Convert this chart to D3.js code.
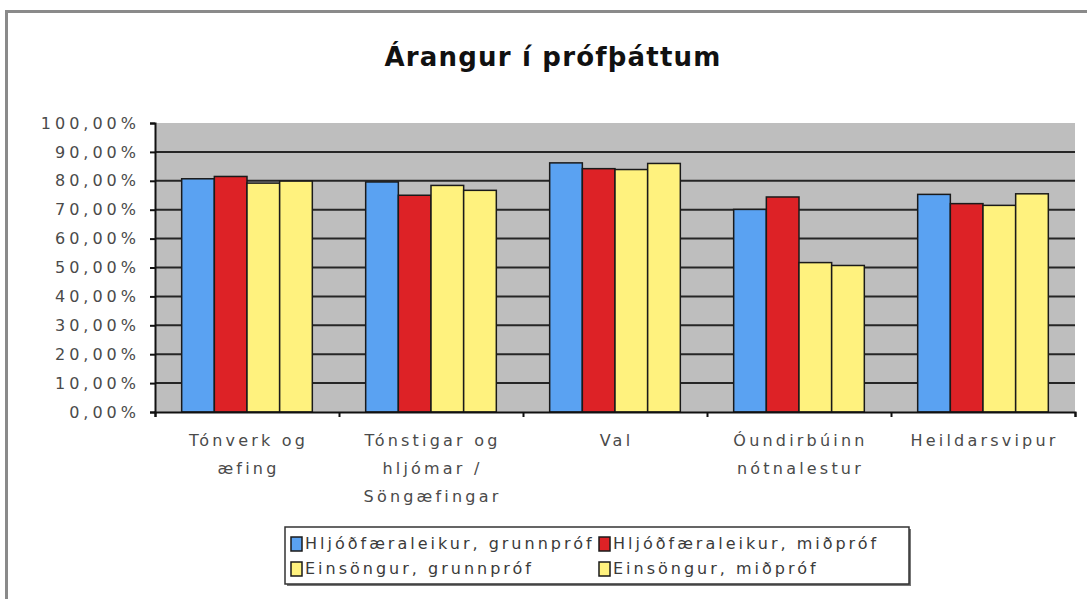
<!DOCTYPE html>
<html>
<head>
<meta charset="utf-8">
<script src="https://cdn.jsdelivr.net/npm/d3@7"></script>
<style>
  body { margin: 0; background: #fff; }
  text { font-family: "DejaVu Sans", Verdana, sans-serif; }
</style>
</head>
<body>
<svg id="chart"></svg>
<script>
const categories = [
    ["Tónverk og", "æfing"],
    ["Tónstigar og", "hljómar /", "Söngæfingar"],
    ["Val"],
    ["Óundirbúinn", "nótnalestur"],
    ["Heildarsvipur"]
];
const seriesNames = [
    "Hljóðfæraleikur, grunnpróf",
    "Hljóðfæraleikur, miðpróf",
    "Einsöngur, grunnpróf",
    "Einsöngur, miðpróf"
];
const seriesColors = ["#5aa2f2", "#dd2226", "#fff27e", "#fff27e"];
// values in percent, per series, one per category
const hljodGrunn = [80.7, 79.6, 86.2, 70.1, 75.3];
const hljodMid   = [81.5, 75.0, 84.2, 74.4, 72.1];
const einsGrunn  = [79.2, 78.4, 83.9, 51.7, 71.5];
const einsMid    = [79.9, 76.7, 86.0, 50.7, 75.5];
const yTicks = [0, 10, 20, 30, 40, 50, 60, 70, 80, 90, 100];

const width = 1087;
const height = 599;
const plot = {left: 155, right: 1075, top: 123, bottom: 412};

const series = [hljodGrunn, hljodMid, einsGrunn, einsMid];
const data = categories.map((c, i) => ({
    key: i,
    values: series.map((s, j) => ({series: j, value: s[i]}))
}));

const svg = d3.select("#chart")
    .attr("width", width)
    .attr("height", height);

// outer frame (only top and left edges visible)
svg.append("path")
    .attr("d", "M6.5,599V11.5H1087")
    .attr("fill", "none")
    .attr("stroke", "#8a8a8a")
    .attr("stroke-width", 3);

// title
svg.append("text")
    .attr("x", 553)
    .attr("y", 66)
    .attr("text-anchor", "middle")
    .attr("font-size", 26)
    .attr("font-weight", "bold")
    .attr("letter-spacing", 1.2)
    .attr("fill", "#111")
    .text("Árangur í prófþáttum");

const x0 = d3.scaleBand()
    .domain(data.map(d => d.key))
    .range([plot.left, plot.right])
    .paddingInner(0.29)
    .paddingOuter(0.145);

const x1 = d3.scaleBand()
    .domain(d3.range(series.length))
    .range([0, x0.bandwidth()]);

const y = d3.scaleLinear()
    .domain([0, 100])
    .range([plot.bottom, plot.top]);

// plot background
svg.append("rect")
    .attr("x", plot.left)
    .attr("y", plot.top)
    .attr("width", plot.right - plot.left)
    .attr("height", plot.bottom - plot.top)
    .attr("fill", "#bebebe");

// gridlines
svg.append("g")
    .selectAll("line")
    .data(yTicks.filter(t => t > 0 && t < 100))
    .join("line")
        .attr("x1", plot.left)
        .attr("x2", plot.right)
        .attr("y1", d => y(d))
        .attr("y2", d => y(d))
        .attr("stroke", "#262626")
        .attr("stroke-width", 2);

// bars
svg.append("g")
    .selectAll("g")
    .data(data)
    .join("g")
        .attr("transform", d => `translate(${x0(d.key)},0)`)
    .selectAll("rect")
    .data(d => d.values)
    .join("rect")
        .attr("x", d => x1(d.series))
        .attr("y", d => y(d.value))
        .attr("width", x1.bandwidth())
        .attr("height", d => y(0) - y(d.value))
        .attr("fill", d => seriesColors[d.series])
        .attr("stroke", "#1a1a1a")
        .attr("stroke-width", 1.5);

// y axis
const yAxis = svg.append("g")
    .attr("transform", `translate(${plot.left},0)`)
    .call(d3.axisLeft(y)
        .tickValues(yTicks)
        .tickSize(5)
        .tickPadding(10)
        .tickFormat(d => d3.format(".2f")(d).replace(".", ",") + "%"));
yAxis.select(".domain").attr("stroke", "#111").attr("stroke-width", 2);
yAxis.selectAll(".tick line").attr("stroke", "#111").attr("stroke-width", 2);
yAxis.selectAll(".tick text")
    .attr("font-size", 16)
    .attr("letter-spacing", 4)
    .attr("fill", "#4a4a4a")
    .attr("font-family", "DejaVu Sans, sans-serif");

// x axis
const xAxisScale = d3.scaleLinear().domain([0, categories.length]).range([plot.left, plot.right]);
const xAxis = svg.append("g")
    .attr("transform", `translate(0,${plot.bottom})`)
    .call(d3.axisBottom(xAxisScale)
        .ticks(categories.length)
        .tickSize(5)
        .tickFormat(""));
xAxis.select(".domain").attr("stroke", "#111").attr("stroke-width", 2);
xAxis.selectAll(".tick line").attr("stroke", "#111").attr("stroke-width", 2);

// category labels
svg.append("g")
    .selectAll("text")
    .data(data)
    .join("text")
        .attr("x", d => x0(d.key) + x0.bandwidth() / 2 + 1.5)
        .attr("y", 446)
        .attr("text-anchor", "middle")
        .attr("font-size", 16)
        .attr("letter-spacing", 3.2)
        .attr("fill", "#4a4a4a")
    .selectAll("tspan")
    .data(d => categories[d.key])
    .join("tspan")
        .attr("x", function() { return this.parentNode.getAttribute("x"); })
        .attr("dy", (d, i) => i === 0 ? 0 : 28)
        .text(d => d);

// legend
const legend = svg.append("g").attr("transform", "translate(285,527)");
legend.append("rect")
    .attr("x", 2).attr("y", 2)
    .attr("width", 624).attr("height", 57)
    .attr("fill", "#777");
legend.append("rect")
    .attr("width", 624).attr("height", 57)
    .attr("fill", "#fff")
    .attr("stroke", "#333")
    .attr("stroke-width", 1.5);

const legendItem = legend.selectAll("g")
    .data(seriesNames)
    .join("g")
        .attr("transform", (d, i) => `translate(${i % 2 === 0 ? 6 : 314},${i < 2 ? 10 : 35})`);
legendItem.append("rect")
    .attr("width", 11).attr("height", 14)
    .attr("fill", (d, i) => seriesColors[i])
    .attr("stroke", "#1a1a1a")
    .attr("stroke-width", 1.5);
legendItem.append("text")
    .attr("x", 14)
    .attr("y", 12)
    .attr("font-size", 16)
    .attr("letter-spacing", 3)
    .attr("fill", "#3a3a3a")
    .text(d => d);
</script>
</body>
</html>
